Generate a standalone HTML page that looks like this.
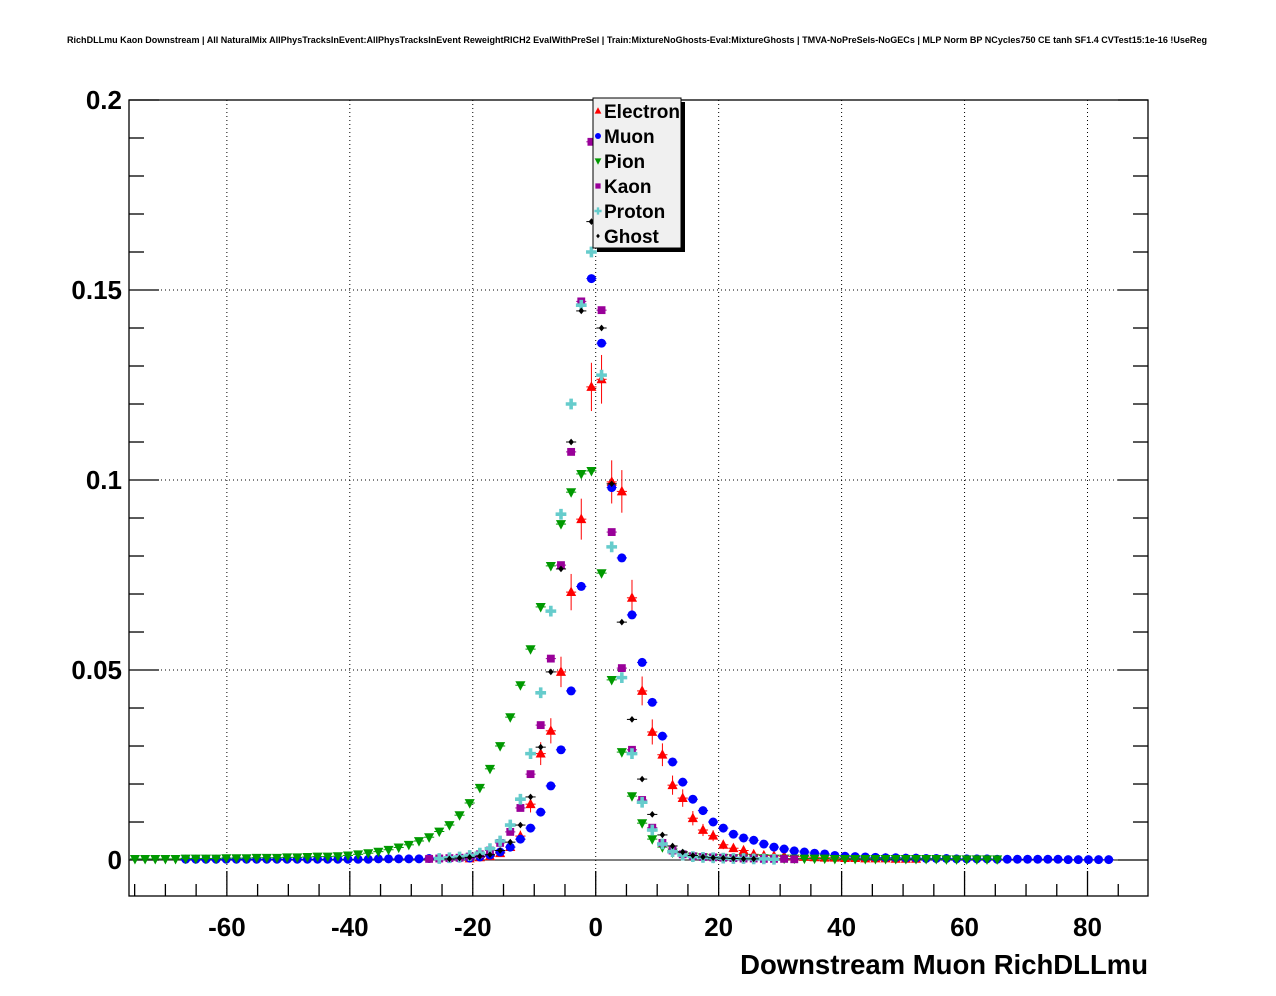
<!DOCTYPE html>
<html><head><meta charset="utf-8"><style>
body{margin:0;background:#fff;}
svg{display:block;font-family:"Liberation Sans",Arial,sans-serif;}
</style></head><body>
<svg id="chart" width="1276" height="996" viewBox="0 0 1276 996" xmlns="http://www.w3.org/2000/svg">
<rect x="0" y="0" width="1276" height="996" fill="#fff"/>
<text x="637" y="43" font-size="9" font-weight="bold" text-anchor="middle" textLength="1140" lengthAdjust="spacingAndGlyphs">RichDLLmu Kaon Downstream | All NaturalMix AllPhysTracksInEvent:AllPhysTracksInEvent ReweightRICH2 EvalWithPreSel | Train:MixtureNoGhosts-Eval:MixtureGhosts | TMVA-NoPreSels-NoGECs | MLP Norm BP NCycles750 CE tanh SF1.4 CVTest15:1e-16 !UseReg</text>
<g id="grid"></g>
<g id="axes"></g>
<g id="marks"></g>
<g id="legend"></g>
<text x="1148" y="974" font-size="27.5" font-weight="bold" text-anchor="end">Downstream Muon RichDLLmu</text>
</svg>
<script>
// Bin centres: x = binOffset + binWidth*k
const binWidth = 1.65, binOffset = -0.7;
const xTicks = [-60,-40,-20,0,20,40,60,80];
const yTicks = [0,0.05,0.1,0.15,0.2];
const yTickLabels = ["0","0.05","0.1","0.15","0.2"];
const seriesNames = ["Electron","Muon","Pion","Kaon","Proton","Ghost"];
const electronStart = -12;
const electronVals = [0.0004,0.0007,0.001,0.0018,0.0034,0.0063,0.0147,0.028,0.034,0.0495,0.0705,0.0897,0.1245,0.1265,0.0995,0.097,0.069,0.0445,0.0337,0.0277,0.0197,0.0163,0.011,0.0079,0.0064,0.004,0.0031,0.0025,0.0015,0.0012,0.0011,0.001,0.0009,0.0008,0.0007,0.0006,0.0006,0.0005,0.0005,0.0004,0.0004,0.0004,0.0003,0.0003,0.0003];
const muonStart = -40;
const muonVals = [0.0002,0.0002,0.0002,0.0002,0.0002,0.0002,0.0002,0.0002,0.0002,0.0002,0.0002,0.0002,0.0002,0.0002,0.0002,0.0002,0.0002,0.0002,0.0002,0.0003,0.0003,0.0003,0.0003,0.0003,0.0004,0.0004,0.0004,0.0005,0.0005,0.0008,0.0013,0.0021,0.0034,0.0055,0.0084,0.0126,0.0195,0.029,0.0445,0.072,0.153,0.136,0.098,0.0795,0.0645,0.052,0.0415,0.0326,0.0258,0.0205,0.016,0.013,0.010,0.0084,0.0068,0.0058,0.0052,0.0042,0.0034,0.0029,0.0024,0.0021,0.0018,0.0016,0.0012,0.001,0.0009,0.0008,0.0007,0.0006,0.0006,0.0005,0.0005,0.0004,0.0004,0.0004,0.0003,0.0003,0.0003,0.0003,0.0002,0.0002,0.0002,0.0002,0.0002,0.0002,0.0002,0.0001,0.0001,0.0001,0.0001,0.0001];
const pionStart = -45;
const pionVals = [0.0003,0.0003,0.0003,0.0003,0.0003,0.0004,0.0004,0.0004,0.0004,0.0005,0.0005,0.0005,0.0006,0.0006,0.0006,0.0007,0.0007,0.0008,0.0009,0.0009,0.001,0.0012,0.0015,0.0018,0.0022,0.0027,0.0033,0.004,0.005,0.006,0.0075,0.0092,0.0118,0.015,0.019,0.024,0.030,0.0376,0.046,0.0555,0.0666,0.0774,0.0884,0.0968,0.1016,0.1024,0.0755,0.0474,0.0284,0.0168,0.0097,0.0055,0.0034,0.002,0.0013,0.0009,0.0007,0.0006,0.0006,0.0005,0.0005,0.0005,0.0005,0.0004,0.0004,0.0004,0.0004,0.0004,0.0004,0.0003,0.0003,0.0003,0.0003,0.0003,0.0003,0.0003,0.0003,0.0003,0.0003,0.0003,0.0002,0.0002,0.0002,0.0002,0.0002,0.0002];
const kaonStart = -16;
const kaonVals = [0.0003,0.0004,0.0005,0.0006,0.0009,0.0015,0.0025,0.0045,0.0074,0.0137,0.0226,0.0355,0.053,0.0776,0.1074,0.147,0.189,0.1447,0.0863,0.0505,0.029,0.0158,0.0085,0.0045,0.0025,0.0015,0.001,0.0008,0.0007,0.0006,0.0005,0.0004,0.0004,0.0003,0.0003,0.0003,0.0002];
const protonStart = -15;
const protonVals = [0.0004,0.0006,0.0008,0.0012,0.0018,0.003,0.005,0.0092,0.016,0.028,0.044,0.0655,0.091,0.120,0.146,0.160,0.1276,0.0824,0.048,0.028,0.0152,0.0079,0.0042,0.0022,0.0013,0.0009,0.0007,0.0006,0.0005,0.0004,0.0004,0.0003,0.0003,0.0002];
const ghostStart = -14;
const ghostVals = [0.0003,0.0005,0.0007,0.001,0.0014,0.0025,0.0047,0.0092,0.0166,0.0297,0.0495,0.0766,0.110,0.1445,0.168,0.140,0.099,0.0626,0.037,0.0213,0.012,0.0066,0.0037,0.0021,0.0012,0.0008,0.0006,0.0005,0.0004,0.0003,0.0003];

const NS="http://www.w3.org/2000/svg";
const L=129,R=1148,T=100,B=896;
const xMin=-75.92,xMax=89.84,yMin=-0.00947,yMax=0.2;
function xs(v){return L+(v-xMin)/(xMax-xMin)*(R-L);}
function ys(v){return B-(v-yMin)/(yMax-yMin)*(B-T);}
function mk(tag,attrs,parent){const e=document.createElementNS(NS,tag);for(const k in attrs)e.setAttribute(k,attrs[k]);parent.appendChild(e);return e;}
const grid=document.getElementById('grid'),axes=document.getElementById('axes'),marks=document.getElementById('marks'),leg=document.getElementById('legend');

xTicks.forEach(t=>{const g=mk('line',{x1:xs(t),x2:xs(t),y1:T,y2:B,stroke:'#000','stroke-width':1,'stroke-dasharray':'1,3'},grid);

});
yTicks.forEach(t=>{const g=mk('line',{x1:L,x2:R,y1:ys(t),y2:ys(t),stroke:'#000','stroke-width':1,'stroke-dasharray':'1,3'},grid);

});
const zl=mk('line',{x1:L,x2:R,y1:ys(0),y2:ys(0),stroke:'#000','stroke-width':1},grid);



const fr=mk('rect',{x:L,y:T,width:R-L,height:B-T,fill:'none',stroke:'#000','stroke-width':1.3},axes);


for(let v=-75;v<=89;v+=5){const maj=v%20===0;const len=maj?25:12;
 const tk=mk('line',{x1:xs(v),x2:xs(v),y1:B,y2:B-len,stroke:'#000','stroke-width':1.3},axes);
 
 }
xTicks.forEach(t=>{const tx=mk('text',{x:xs(t),y:936,'font-size':26,'font-weight':'bold','text-anchor':'middle'},axes);tx.textContent=String(t);
 
 });
for(let i=0;i<=20;i++){const v=i*0.01;const maj=i%5===0;const len=maj?30:15;
 const a=mk('line',{x1:L,x2:L+len,y1:ys(v),y2:ys(v),stroke:'#000','stroke-width':1.3},axes);
 
 
 const b=mk('line',{x1:R,x2:R-len,y1:ys(v),y2:ys(v),stroke:'#000','stroke-width':1.3},axes);
 
 }
yTicks.forEach((t,i)=>{const tx=mk('text',{x:122,y:ys(t)+9,'font-size':26,'font-weight':'bold','text-anchor':'end'},axes);tx.textContent=yTickLabels[i];
 
 });

function marker(kind,cx,cy,col,parent,s){
 s=s||1;
 if(kind==='tri-up')return mk('polygon',{points:`${cx},${cy-5*s} ${cx-4.5*s},${cy+3.5*s} ${cx+4.5*s},${cy+3.5*s}`,fill:col},parent);
 if(kind==='tri-down')return mk('polygon',{points:`${cx},${cy+5*s} ${cx-4.5*s},${cy-3.5*s} ${cx+4.5*s},${cy-3.5*s}`,fill:col},parent);
 if(kind==='circle')return mk('circle',{cx:cx,cy:cy,r:4*s,fill:col},parent);
 if(kind==='square')return mk('rect',{x:cx-3.5*s,y:cy-3.5*s,width:7*s,height:7*s,fill:col},parent);
 if(kind==='cross'){const a=1.6*s,b=4.8*s;return mk('path',{d:`M${cx-b},${cy-a}H${cx-a}V${cy-b}H${cx+a}V${cy-a}H${cx+b}V${cy+a}H${cx+a}V${cy+b}H${cx-a}V${cy+a}H${cx-b}Z`,fill:col},parent);}
 return mk('polygon',{points:`${cx},${cy-3*s} ${cx+2.5*s},${cy} ${cx},${cy+3*s} ${cx-2.5*s},${cy}`,fill:col},parent);
}
const series=[
 {name:'electron',start:electronStart,vals:electronVals,col:'#ff0000',kind:'tri-up',err:true},
 {name:'muon',start:muonStart,vals:muonVals,col:'#0000ff',kind:'circle'},
 {name:'pion',start:pionStart,vals:pionVals,col:'#009900',kind:'tri-down'},
 {name:'kaon',start:kaonStart,vals:kaonVals,col:'#990099',kind:'square'},
 {name:'proton',start:protonStart,vals:protonVals,col:'#66cccc',kind:'cross'},
 {name:'ghost',start:ghostStart,vals:ghostVals,col:'#000000',kind:'diamond'}
];
series.forEach(s=>{
 const g=mk('g',{},marks);
 
 
 s.vals.forEach((v,i)=>{
  const k=s.start+i;const x=binOffset+binWidth*k;
  const cx=xs(x),cy=ys(v);
  const h=mk('line',{x1:xs(x-binWidth/2),x2:xs(x+binWidth/2),y1:cy,y2:cy,stroke:s.col,'stroke-width':1},g);
  
  
  if(s.err){const e=0.018*Math.sqrt(v);
   const ve=mk('line',{x1:cx,x2:cx,y1:ys(v+e),y2:ys(v-e),stroke:s.col,'stroke-width':1},g);
   
   }
  const m=marker(s.kind,cx,cy,s.col,g,1.12);
  
  
 });
});

const lb=mk('rect',{x:597,y:102,width:88,height:150,fill:'#000'},leg);


const lr=mk('rect',{x:593,y:98,width:88,height:150,fill:'#f0f0f0',stroke:'#000','stroke-width':1},leg);


series.forEach((s,i)=>{
 const y=111+25*i;
 const m=marker(s.kind,598,y,s.col,leg,0.75);
 
 
 const t=mk('text',{x:604,y:y+7,'font-size':19,'font-weight':'bold'},leg);t.textContent=seriesNames[i];
 
 
});
</script>
</body></html>
